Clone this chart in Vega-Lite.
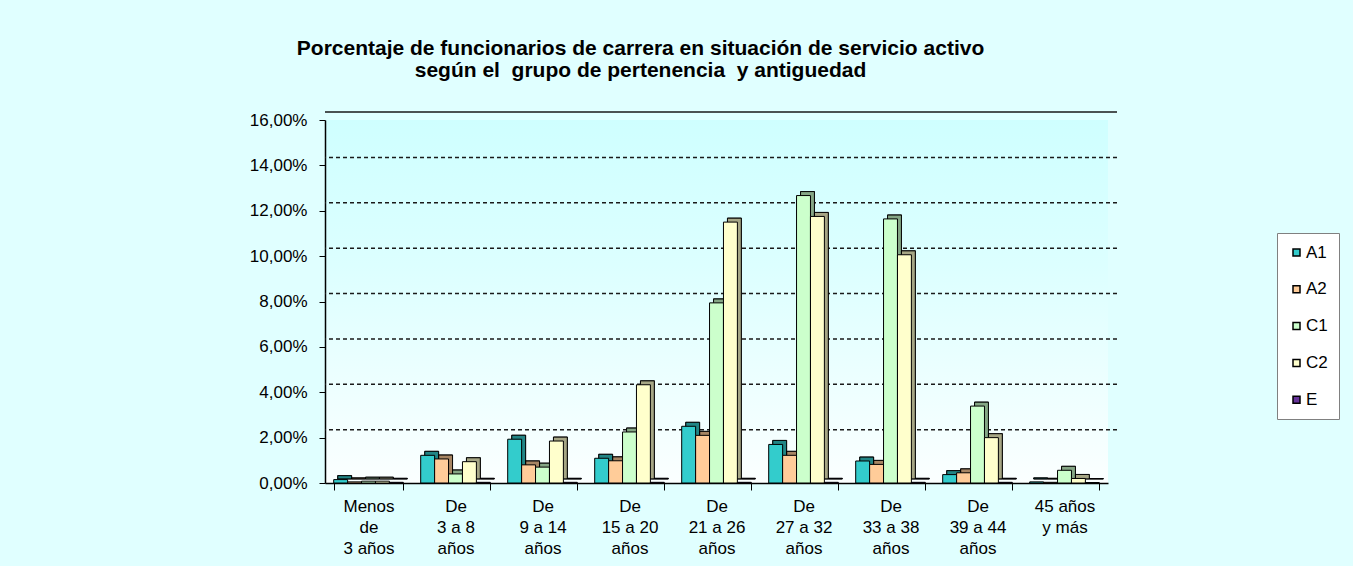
{
  "$schema": "https://vega.github.io/schema/vega-lite/v6.json",
  "autosize": "none",
  "width": 783,
  "height": 363,
  "padding": {"left": 325, "top": 120, "right": 245, "bottom": 83},
  "background": "#E0FFFF",
  "title": {
    "text": ["Porcentaje de funcionarios de carrera en situación de servicio activo", "según el \u00a0grupo de pertenencia \u00a0y antiguedad"],
    "font": "Liberation Sans",
    "fontSize": 21,
    "fontWeight": "bold",
    "lineHeight": 22,
    "color": "#000000",
    "anchor": "middle",
    "frame": "group",
    "dx": -76,
    "offset": 30
  },
  "config": {
    "font": "Liberation Sans",
    "view": {
      "fill": {"gradient": "linear", "x1": 0, "y1": 0, "x2": 0, "y2": 1,
        "stops": [{"offset": 0, "color": "#CFFFFF"}, {"offset": 0.4, "color": "#DCFFFF"}, {"offset": 1, "color": "#FBFFFF"}]},
      "stroke": null
    }
  },
  "datasets": {
    "rejilla": [
      {"valor": 0.02}, {"valor": 0.04}, {"valor": 0.06}, {"valor": 0.08},
      {"valor": 0.10}, {"valor": 0.12}, {"valor": 0.14}, {"valor": 0.16}
    ],
    "funcionarios": [
      {"antiguedad": "Menos\nde\n3 años", "grupo": "A1", "valor": 0.0015},
      {"antiguedad": "Menos\nde\n3 años", "grupo": "A2", "valor": 0.0005},
      {"antiguedad": "Menos\nde\n3 años", "grupo": "C1", "valor": 0.0008},
      {"antiguedad": "Menos\nde\n3 años", "grupo": "C2", "valor": 0.0008},
      {"antiguedad": "Menos\nde\n3 años", "grupo": "E", "valor": 0.0003},
      {"antiguedad": "De\n3 a 8\naños", "grupo": "A1", "valor": 0.0122},
      {"antiguedad": "De\n3 a 8\naños", "grupo": "A2", "valor": 0.0106},
      {"antiguedad": "De\n3 a 8\naños", "grupo": "C1", "valor": 0.0040},
      {"antiguedad": "De\n3 a 8\naños", "grupo": "C2", "valor": 0.0094},
      {"antiguedad": "De\n3 a 8\naños", "grupo": "E", "valor": 0.0003},
      {"antiguedad": "De\n9 a 14\naños", "grupo": "A1", "valor": 0.0193},
      {"antiguedad": "De\n9 a 14\naños", "grupo": "A2", "valor": 0.0080},
      {"antiguedad": "De\n9 a 14\naños", "grupo": "C1", "valor": 0.0070},
      {"antiguedad": "De\n9 a 14\naños", "grupo": "C2", "valor": 0.0185},
      {"antiguedad": "De\n9 a 14\naños", "grupo": "E", "valor": 0.0003},
      {"antiguedad": "De\n15 a 20\naños", "grupo": "A1", "valor": 0.0109},
      {"antiguedad": "De\n15 a 20\naños", "grupo": "A2", "valor": 0.0098},
      {"antiguedad": "De\n15 a 20\naños", "grupo": "C1", "valor": 0.0225},
      {"antiguedad": "De\n15 a 20\naños", "grupo": "C2", "valor": 0.0433},
      {"antiguedad": "De\n15 a 20\naños", "grupo": "E", "valor": 0.0003},
      {"antiguedad": "De\n21 a 26\naños", "grupo": "A1", "valor": 0.0250},
      {"antiguedad": "De\n21 a 26\naños", "grupo": "A2", "valor": 0.0210},
      {"antiguedad": "De\n21 a 26\naños", "grupo": "C1", "valor": 0.0794},
      {"antiguedad": "De\n21 a 26\naños", "grupo": "C2", "valor": 0.1150},
      {"antiguedad": "De\n21 a 26\naños", "grupo": "E", "valor": 0.0003},
      {"antiguedad": "De\n27 a 32\naños", "grupo": "A1", "valor": 0.0170},
      {"antiguedad": "De\n27 a 32\naños", "grupo": "A2", "valor": 0.0122},
      {"antiguedad": "De\n27 a 32\naños", "grupo": "C1", "valor": 0.1267},
      {"antiguedad": "De\n27 a 32\naños", "grupo": "C2", "valor": 0.1175},
      {"antiguedad": "De\n27 a 32\naños", "grupo": "E", "valor": 0.0003},
      {"antiguedad": "De\n33 a 38\naños", "grupo": "A1", "valor": 0.0097},
      {"antiguedad": "De\n33 a 38\naños", "grupo": "A2", "valor": 0.0082},
      {"antiguedad": "De\n33 a 38\naños", "grupo": "C1", "valor": 0.1164},
      {"antiguedad": "De\n33 a 38\naños", "grupo": "C2", "valor": 0.1006},
      {"antiguedad": "De\n33 a 38\naños", "grupo": "E", "valor": 0.0003},
      {"antiguedad": "De\n39 a 44\naños", "grupo": "A1", "valor": 0.0037},
      {"antiguedad": "De\n39 a 44\naños", "grupo": "A2", "valor": 0.0045},
      {"antiguedad": "De\n39 a 44\naños", "grupo": "C1", "valor": 0.0339},
      {"antiguedad": "De\n39 a 44\naños", "grupo": "C2", "valor": 0.0200},
      {"antiguedad": "De\n39 a 44\naños", "grupo": "E", "valor": 0.0003},
      {"antiguedad": "45 años\ny más", "grupo": "A1", "valor": 0.0005},
      {"antiguedad": "45 años\ny más", "grupo": "A2", "valor": 0.0003},
      {"antiguedad": "45 años\ny más", "grupo": "C1", "valor": 0.0056},
      {"antiguedad": "45 años\ny más", "grupo": "C2", "valor": 0.0020},
      {"antiguedad": "45 años\ny más", "grupo": "E", "valor": 0.0002}
    ]
  },
  "resolve": {"scale": {"xOffset": "independent"}},
  "layer": [
    {
      "data": {"name": "rejilla"},
      "mark": {"type": "rule", "xOffset": 9, "x2Offset": 9, "yOffset": -8, "color": "#1A1A1A", "strokeWidth": 1.5},
      "encoding": {
        "strokeDash": {"condition": {"test": "datum.valor >= 0.159", "value": [1, 0]}, "value": [4, 3]},
        "y": {
          "field": "valor",
          "type": "quantitative",
          "scale": {"domain": [0, 0.16], "nice": false},
          "axis": {
            "title": null,
            "values": [0, 0.02, 0.04, 0.06, 0.08, 0.1, 0.12, 0.14, 0.16],
            "labelExpr": "replace(format(datum.value, '.2%'), '.', ',')",
            "labelFontSize": 17,
            "labelColor": "#000000",
            "labelPadding": 12,
            "tickSize": 6,
            "tickColor": "#000000",
            "domainColor": "#000000",
            "domainWidth": 1.5,
            "grid": false
          }
        }
      }
    },
    {
      "data": {"name": "funcionarios"},
      "mark": {"type": "bar", "yOffset": -4, "y2Offset": -4, "stroke": "#000000", "strokeWidth": 0.8},
      "encoding": {
        "x": {
          "field": "antiguedad",
          "type": "nominal",
          "sort": null,
          "scale": {"paddingInner": 0.2, "paddingOuter": 0.1},
          "axis": {
            "title": null,
            "labelAngle": 0,
            "labelExpr": "split(datum.label, '\\n')",
            "labelFontSize": 17,
            "labelLineHeight": 21,
            "labelColor": "#000000",
            "labelPadding": 8,
            "tickBand": "extent",
            "tickSize": 7,
            "tickColor": "#000000",
            "domainColor": "#000000",
            "domainWidth": 1.5,
            "grid": false
          }
        },
        "y": {"field": "valor", "type": "quantitative"},
        "xOffset": {"field": "grupo", "type": "nominal", "sort": ["A1", "A2", "C1", "C2", "E"],
          "scale": {"paddingInner": 0, "paddingOuter": 0, "range": [{"expr": "4"}, {"expr": "bandwidth('x') + 4"}]}},
        "color": {"field": "grupo", "type": "nominal"}
      }
    },
    {
      "data": {"name": "funcionarios"},
      "mark": {"type": "bar", "yOffset": -4, "y2Offset": -4, "fill": "#000000", "fillOpacity": 0.35, "stroke": "#000000", "strokeWidth": 0.8},
      "encoding": {
        "x": {"field": "antiguedad", "type": "nominal", "sort": null},
        "y": {"field": "valor", "type": "quantitative"},
        "xOffset": {"field": "grupo", "type": "nominal", "sort": ["A1", "A2", "C1", "C2", "E"],
          "scale": {"paddingInner": 0, "paddingOuter": 0, "range": [{"expr": "4"}, {"expr": "bandwidth('x') + 4"}]}}
      }
    },
    {
      "data": {"name": "funcionarios"},
      "mark": {"type": "bar", "stroke": "#000000", "strokeWidth": 1},
      "encoding": {
        "x": {"field": "antiguedad", "type": "nominal", "sort": null},
        "y": {"field": "valor", "type": "quantitative"},
        "xOffset": {"field": "grupo", "type": "nominal", "sort": ["A1", "A2", "C1", "C2", "E"], "scale": {"paddingInner": 0, "paddingOuter": 0}},
        "color": {
          "field": "grupo",
          "type": "nominal",
          "scale": {"domain": ["A1", "A2", "C1", "C2", "E"], "range": ["#33CCCC", "#FFCC99", "#CCFFCC", "#FFFFCC", "#663399"]},
          "legend": {
            "title": null,
            "orient": "none",
            "legendX": 952,
            "legendY": 113,
            "fillColor": "#FFFFFF",
            "strokeColor": "#808080",
            "padding": 11,
            "symbolType": "square",
            "symbolSize": 49,
            "symbolStrokeColor": "#000000",
            "symbolStrokeWidth": 1.5,
            "labelFontSize": 17,
            "labelColor": "#000000",
            "labelOffset": 1,
            "rowPadding": 18.8
          }
        }
      }
    }
  ]
}
